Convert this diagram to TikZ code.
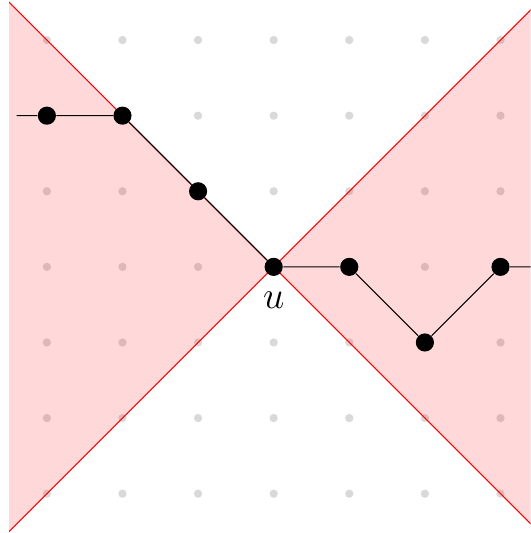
\documentclass[tikz,border=0pt]{standalone}
\usepackage{amsmath,amssymb}
\usepackage{xcolor}
\usepackage{tikz}
\usetikzlibrary{positioning, arrows.meta}
\tikzset{
  gridpt/.style={circle, fill=gray!30, inner sep=0pt, minimum size=0.11cm},
  walkpt/.style={circle, fill=black, inner sep=0pt, minimum size=0.24cm},
  conefill/.style={red, opacity=0.15},
  coneline/.style={red, line width=0.4pt},
  walk/.style={black, line width=0.4pt},
}

\begin{document}
\begin{tikzpicture}[x=1cm, y=1cm]
    \useasboundingbox (-3.62,-3.52) rectangle (3.4,3.53);
    % lattice
    \foreach \x in {-3,...,3} {
      \foreach \y in {-3,...,3} {
        \node[gridpt] (g\x\y) at (\x,\y) {};
      }
    }
    % light cones
    \begin{scope}
      \clip (-3.5,-3.6) rectangle (3.4,3.6);
      \fill[conefill] (0,0) -- (-3.6,3.6) -- (-3.6,-3.6) -- cycle;
      \fill[conefill] (0,0) -- (3.6,3.6) -- (3.6,-3.6) -- cycle;
      \draw[coneline] (-3.6,3.6) -- (3.6,-3.6);
      \draw[coneline] (-3.6,-3.6) -- (3.6,3.6);
    \end{scope}
    % walk
    \coordinate (w0) at (-3.4,2);
    \coordinate (w8) at (3.4,0);
    \node[walkpt] (w1) at (-3,2) {};
    \node[walkpt] (w2) at (-2,2) {};
    \node[walkpt] (w3) at (-1,1) {};
    \node[walkpt, label={[font=\Large, inner sep=3pt, label distance=2.5pt]below:$u$}] (u) at (0,0) {};
    \node[walkpt] (w5) at (1,0) {};
    \node[walkpt] (w6) at (2,-1) {};
    \node[walkpt] (w7) at (3,0) {};
    \draw[walk] (w0) -- (w1) -- (w2) -- (w3) -- (u) -- (w5) -- (w6) -- (w7) -- (w8);
\end{tikzpicture}
\end{document}
